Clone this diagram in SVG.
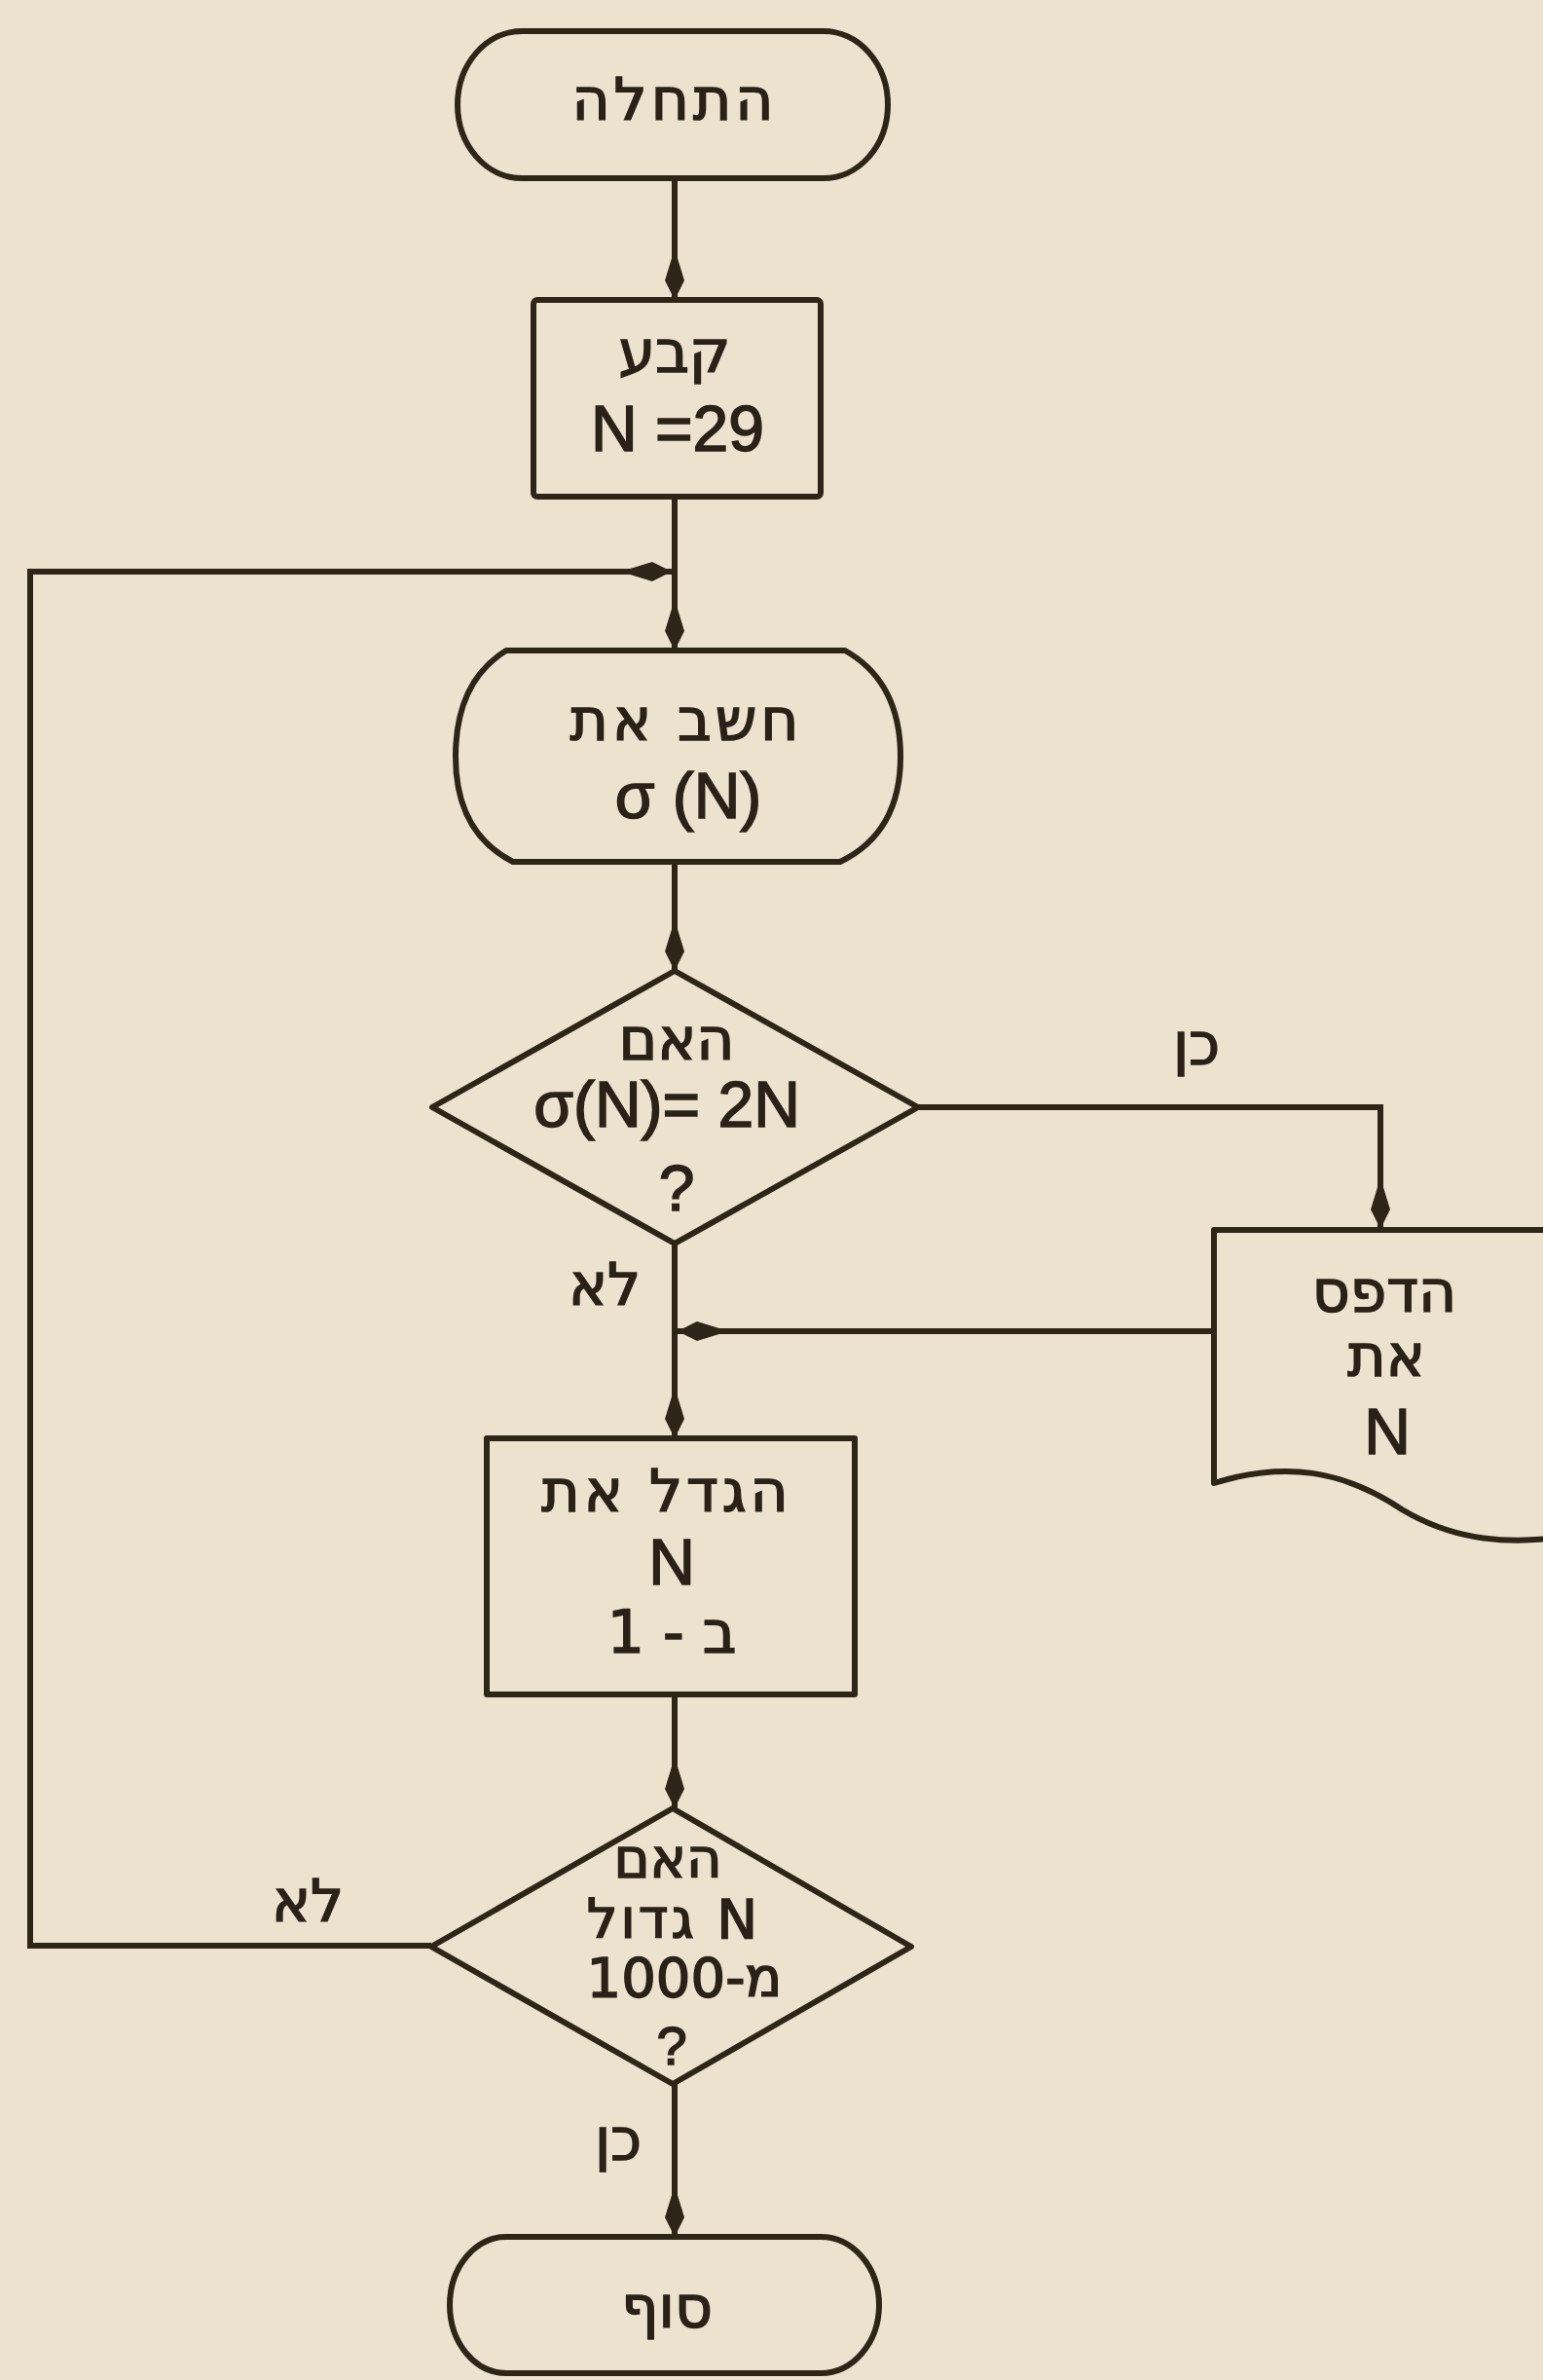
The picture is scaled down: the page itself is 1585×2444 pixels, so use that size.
<svg xmlns="http://www.w3.org/2000/svg" width="1585" height="2444" viewBox="0 0 1585 2444">
<style>
.bg{fill:#ece2cd}
.shape{fill:none;stroke:#2e2519;stroke-width:6;stroke-linejoin:round}
.conn{fill:none;stroke:#2e2519;stroke-width:6}
.t{font-family:"DejaVu Sans","Liberation Sans",sans-serif;font-size:60px;fill:#2a2218;stroke:#2a2218;stroke-width:1.6;text-anchor:middle}
.he{direction:rtl}
.la{font-family:"Liberation Sans","DejaVu Sans",sans-serif;font-size:66px}
.sm{font-size:56px}
</style>
<defs>
<marker id="ah" viewBox="-48 -12 50 24" refX="0" refY="0" markerWidth="50" markerHeight="24" orient="auto" markerUnits="userSpaceOnUse">
<path d="M0,0 L-20,-10 L-46,-2 L-46,2 L-20,10 Z" fill="#2e2519"/>
</marker>
</defs>
<rect class="bg" x="0" y="0" width="1585" height="2444"/>

<g id="connectors">
<line class="conn" x1="693" y1="183" x2="693" y2="308" marker-end="url(#ah)"/>
<line class="conn" x1="693" y1="510" x2="693" y2="668" marker-end="url(#ah)"/>
<path class="conn" d="M443,1998 H31 V587 H690" marker-end="url(#ah)"/>
<line class="conn" x1="693" y1="885" x2="693" y2="997" marker-end="url(#ah)"/>
<path class="conn" d="M943,1137 H1418 V1262" marker-end="url(#ah)"/>
<line class="conn" x1="693" y1="1277" x2="693" y2="1477" marker-end="url(#ah)"/>
<path class="conn" d="M1247,1367 H696" marker-end="url(#ah)"/>
<line class="conn" x1="693" y1="1740" x2="693" y2="1857" marker-end="url(#ah)"/>
<line class="conn" x1="693" y1="2140" x2="693" y2="2297" marker-end="url(#ah)"/>
<text class="t he" x="1229" y="1093">כן</text>
<text class="t he" x="621" y="1340">לא</text>
<text class="t he" x="316" y="1973">לא</text>
<text class="t he" x="635" y="2218">כן</text>
</g>

<g id="start">
<path class="shape" d="M536,32 H846 A66 75.5 0 0 1 846,183 H536 A66 75.5 0 0 1 536,32 Z"/>
<text class="t he" x="693" y="123" letter-spacing="4">התחלה</text>
</g>

<g id="set">
<rect class="shape" x="548" y="308" width="295" height="202" rx="4"/>
<text class="t he" x="693" y="382">קבע</text>
<text class="t la" x="696" y="463">N =29</text>
</g>

<g id="compute">
<path class="shape" d="M520,668 H868 Q925,700 925,777 Q925,855 863,885 H527 Q468,855 468,777 Q468,700 520,668 Z"/>
<text class="t he" x="705" y="760" letter-spacing="4">חשב את</text>
<text class="t la" x="707" y="840">σ (N)</text>
</g>

<g id="decision1">
<polygon class="shape" points="693,997 943,1137 693,1277 444,1137"/>
<text class="t he" x="695" y="1088">האם</text>
<text class="t la" x="685" y="1157">σ(N)= 2N</text>
<text class="t la" x="695" y="1243">?</text>
</g>

<g id="print">
<path class="shape" d="M1592,1263 H1247 V1523 C1320,1500 1380,1510 1440,1550 C1490,1580 1540,1585 1592,1580"/>
<text class="t he" x="1422" y="1347">הדפס</text>
<text class="t he" x="1424" y="1413">את</text>
<text class="t la" x="1425" y="1493">N</text>
</g>

<g id="increment">
<rect class="shape" x="500" y="1477" width="378" height="263"/>
<text class="t he" x="685" y="1552" letter-spacing="4">הגדל את</text>
<text class="t la" x="690" y="1627">N</text>
<text class="t he" x="690" y="1697">ב - 1</text>
</g>

<g id="decision2">
<polygon class="shape" points="691,1857 936,1999 691,2140 443,1999"/>
<text class="t he sm" x="686" y="1928">האם</text>
<text class="t he sm" x="692" y="1990" letter-spacing="3">N  גדול</text>
<text class="t he sm" x="703" y="2050">מ-1000</text>
<text class="t la sm" x="690" y="2120">?</text>
</g>

<g id="end">
<path class="shape" d="M520,2297 H843 A60 70 0 0 1 843,2437 H520 A58 70 0 0 1 520,2297 Z"/>
<text class="t he" x="685" y="2390">סוף</text>
</g>
</svg>
